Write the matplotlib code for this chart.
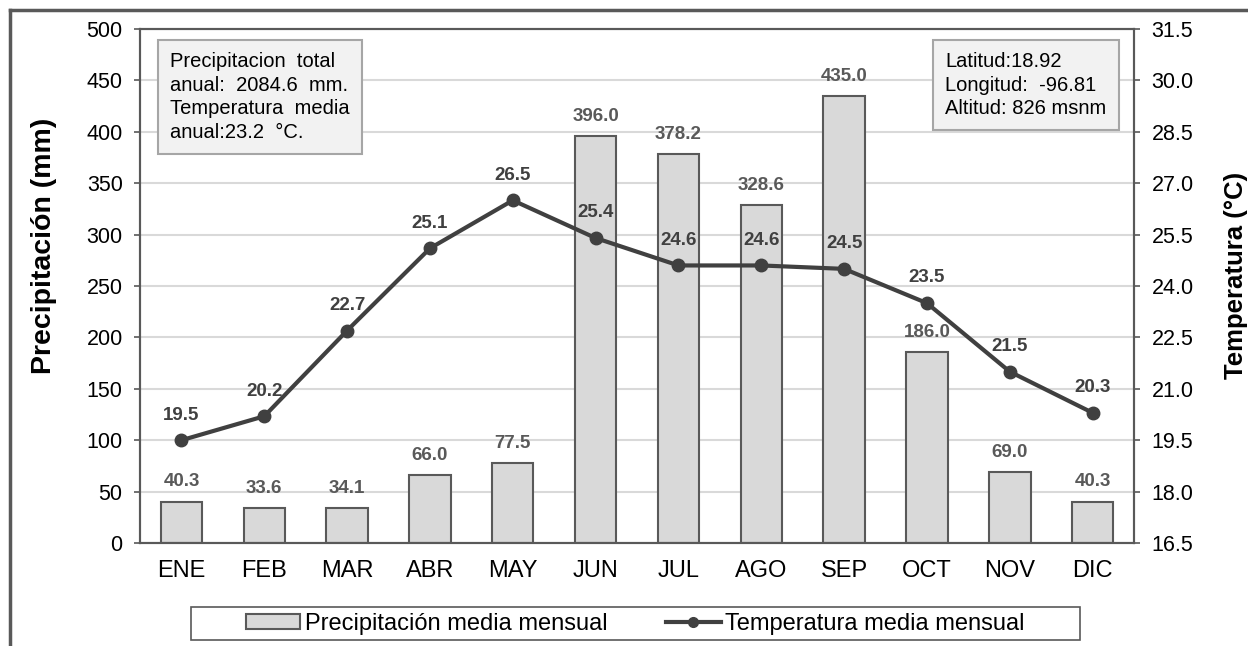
#!/usr/bin/python3

# Climograma: precipitacion (barras) y temperatura (linea) mensual

import matplotlib.pyplot as plt
from matplotlib.lines import Line2D
from matplotlib.patches import Rectangle
import numpy as np

plt.rcParams['font.family'] = ['Liberation Sans', 'DejaVu Sans']

meses = ['ENE', 'FEB', 'MAR', 'ABR', 'MAY', 'JUN', 'JUL', 'AGO', 'SEP', 'OCT', 'NOV', 'DIC']
precip = [40.3, 33.6, 34.1, 66.0, 77.5, 396.0, 378.2, 328.6, 435.0, 186.0, 69.0, 40.3]
temp = [19.5, 20.2, 22.7, 25.1, 26.5, 25.4, 24.6, 24.6, 24.5, 23.5, 21.5, 20.3]

precip_ticks = np.arange(0, 501, 50)
temp_ticks = np.arange(16.5, 31.6, 1.5)

gris = '#595959'
linea = '#404040'

fig = plt.figure(figsize=(12.48, 6.46), dpi=100)
ax = fig.add_axes([0.1122, 0.1594, 0.7965, 0.7957])
ax2 = ax.twinx()

x = np.arange(len(meses))

# Barras de precipitacion
bars = ax.bar(x, precip, width=0.5, color='#d9d9d9', edgecolor=gris, linewidth=1.5,
              label='Precipitación media mensual', zorder=2)
for xi, p in zip(x, precip):
    ax.annotate('%.1f' % p, (xi, p), xytext=(0, 8), textcoords='offset points',
                ha='center', va='bottom', fontsize=13.5, fontweight='bold', color=gris)

ax.set_xlim(-0.5, len(meses) - 0.5)
ax.set_ylim(0, 500)
ax.set_yticks(precip_ticks)
ax.set_xticks(x)
ax.set_xticklabels(meses, fontsize=17)
ax.tick_params(axis='x', length=0, pad=12)
ax.tick_params(axis='y', labelsize=15.5, length=4.5, width=1.2, color=gris, pad=8)
ax.yaxis.grid(True, color='#d9d9d9', linewidth=1.5, zorder=0)
ax.set_axisbelow(True)
ax.set_ylabel('Precipitación (mm)', fontsize=20.5, fontweight='bold')
ax.yaxis.set_label_coords(-0.0835, 0.578)

# Linea de temperatura
ax2.plot(x, temp, color=linea, linewidth=3, marker='o', markersize=9, zorder=3,
         label='Temperatura media mensual')
for xi, t in zip(x, temp):
    ax2.annotate('%.1f' % t, (xi, t), xytext=(0, 12), textcoords='offset points',
                 ha='center', va='bottom', fontsize=13.5, fontweight='bold', color=linea)
ax2.set_ylim(16.5, 31.5)
ax2.set_yticks(temp_ticks)
ax2.set_yticklabels(['%.1f' % t for t in temp_ticks])
ax2.tick_params(axis='y', labelsize=15.5, length=4.5, width=1.2, color=gris, pad=8)
ax2.set_ylabel('Temperatura (°C)', fontsize=18.5, fontweight='bold')
ax2.yaxis.set_label_coords(1.0905, 0.521)

for a in (ax, ax2):
    for s in a.spines.values():
        s.set_color(gris)
        s.set_linewidth(1.5)

# Cuadros de texto
caja = dict(boxstyle='square,pad=0.6', facecolor='#f2f2f2', edgecolor='#a6a6a6', linewidth=1.5)
ax.text(0.0302, 0.955, 'Precipitacion  total\nanual:  2084.6  mm.\nTemperatura  media\nanual:23.2  °C.',
        transform=ax.transAxes, ha='left', va='top', fontsize=14.5, linespacing=1.3, bbox=caja, zorder=5)
ax.text(0.81, 0.955, 'Latitud:18.92\nLongitud:  -96.81\nAltitud: 826 msnm',
        transform=ax.transAxes, ha='left', va='top', fontsize=14.5, linespacing=1.3, bbox=caja, zorder=5)

# Leyenda (marco aparte, mas ancho que el contenido)
handles = [bars, Line2D([], [], color=linea, linewidth=3, marker='o', markersize=7)]
labels = ['Precipitación media mensual', 'Temperatura media mensual']
leg = fig.legend(handles, labels, loc='center', bbox_to_anchor=(0.509, 0.0348), ncol=2,
                 fontsize=17, frameon=False,
                 handlelength=2.3, handleheight=0.6, handletextpad=0.2, columnspacing=2.5,
                 borderpad=0.25, borderaxespad=0)
fig.add_artist(Rectangle((191 / 1248, 1 - 640 / 646), 889 / 1248, 33 / 646, transform=fig.transFigure,
                         facecolor='none', edgecolor=gris, linewidth=1.2))

# Marco exterior
fig.add_artist(Line2D([10 / 1248, 10 / 1248], [0, 1 - 10 / 646], color=gris, linewidth=2.5,
                      transform=fig.transFigure))
fig.add_artist(Line2D([10 / 1248, 1], [1 - 10 / 646, 1 - 10 / 646], color=gris, linewidth=2.5,
                      transform=fig.transFigure))

fig.savefig('out.png', dpi=100)
